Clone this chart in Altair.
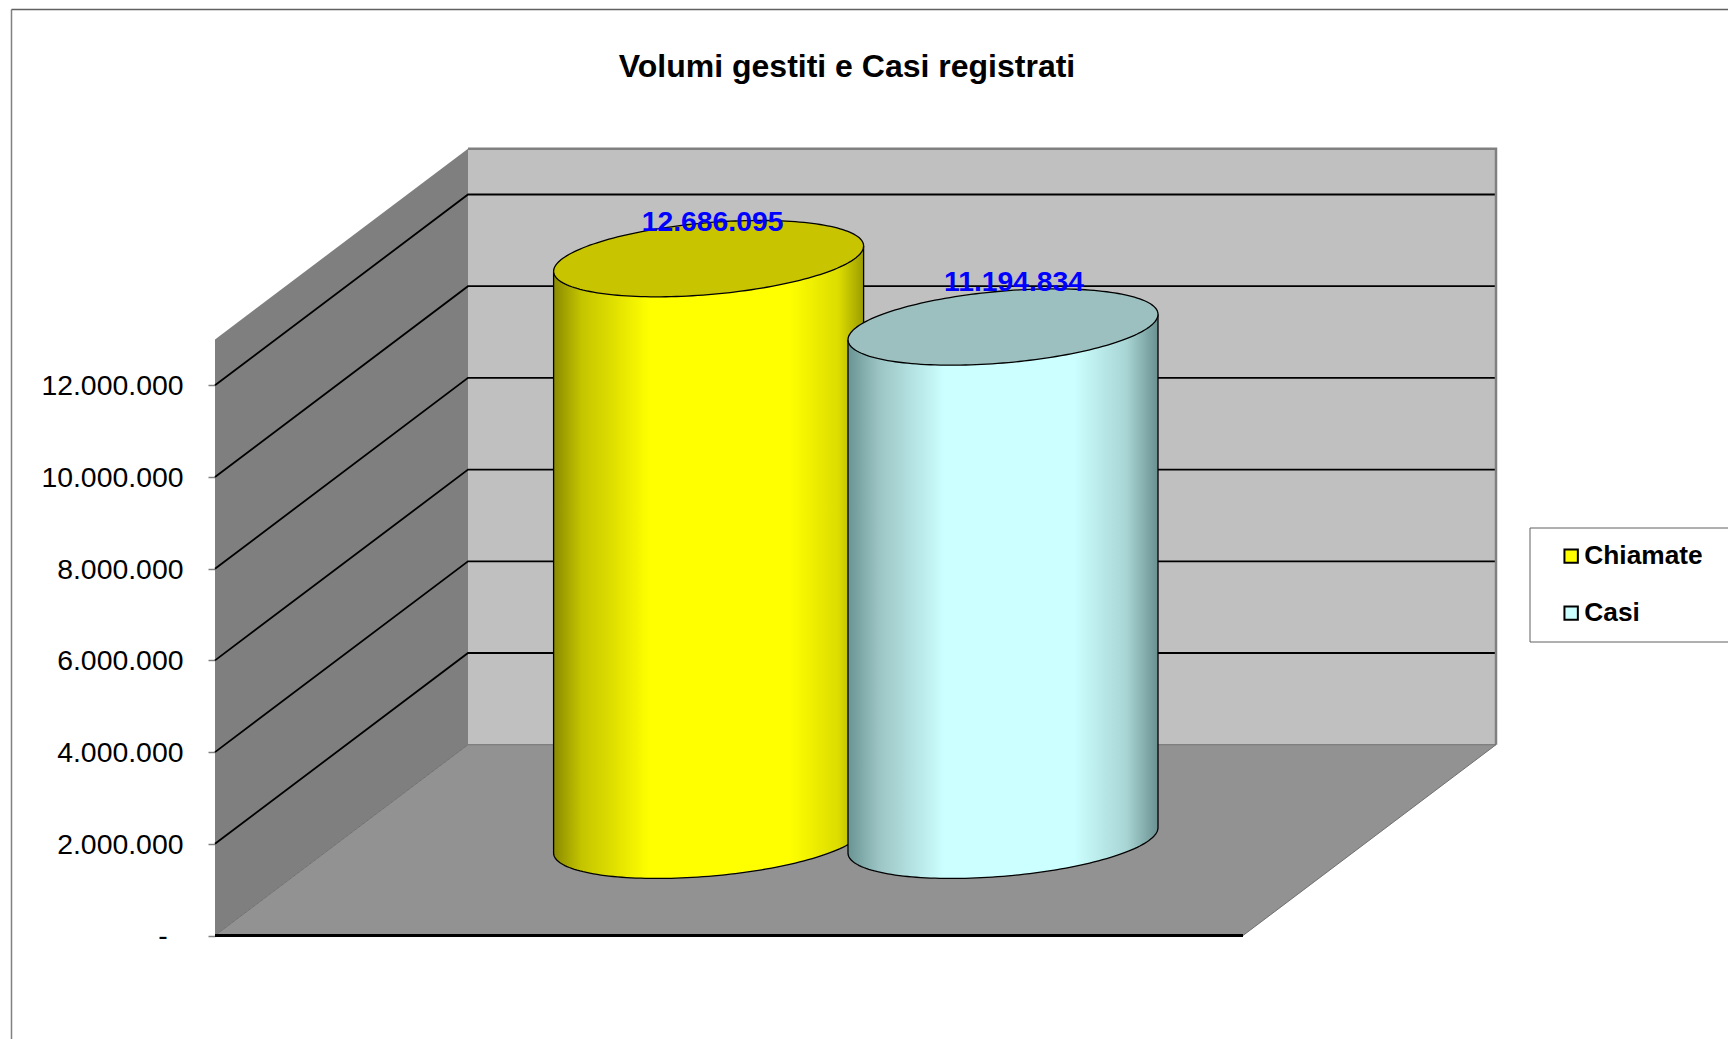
import math
import altair as alt
import pandas as pd

# ---- chart values -------------------------------------------------------
series = ["Chiamate", "Casi"]
values = [12686095, 11194834]
tick_values = [0, 2000000, 4000000, 6000000, 8000000, 10000000, 12000000]
title_text = "Volumi gestiti e Casi registrati"

# ---- 3-D frame model (x: front wall width = 1, y: value units) ----------
W, H = 1720, 1031
PX_X = 1028.0            # pixels per x unit
PX_Y = 45.85 / 1e6       # pixels per value unit
X0_PX, Y0_PX = 207.0, 927.5   # where x=0, value=0 fall inside the view
DEPTH_X = 253.0 / PX_X
DEPTH_Y = 190.8 / PX_Y
WALL_TOP = 13000000
CENTER = {"Chiamate": 493.6 / PX_X, "Casi": 788.0 / PX_X}
HALF_W = 155.0 / PX_X
RISE = 12.7 / PX_Y       # tilt of the ellipses
SEMI = 36.0 / PX_Y       # vertical half height of the ellipses
BASE = 95.2 / PX_Y       # height of the cylinders' base centre

FONT = "Liberation Sans"
STYLE = {
    "Chiamate": dict(
        top="#c8c400", legend="#ffff00",
        stops=[(0, "#8a8a00"), (0.09, "#c4c400"), (0.31, "#ffff00"),
               (0.76, "#ffff00"), (0.92, "#dcdc00"), (1, "#9c9c00")],
        dx=4, dy=-36),
    "Casi": dict(
        top="#9cc0c0", legend="#ccffff",
        stops=[(0, "#6a9494"), (0.1, "#9cc4c4"), (0.31, "#ccffff"),
               (0.73, "#ccffff"), (0.9, "#a8d4d4"), (1, "#6a9090")],
        dx=11, dy=-44),
}

xs = alt.Scale(domain=[-X0_PX / PX_X, (W - X0_PX) / PX_X], range=[0, W], nice=False, zero=False)
ys = alt.Scale(domain=[(Y0_PX - H) / PX_Y, Y0_PX / PX_Y], range=[H, 0], nice=False, zero=False)
y_axis = alt.Axis(
    values=tick_values, offset=-X0_PX, domain=False, grid=False, title=None,
    tickColor="#808080", tickSize=7, tickWidth=1.5, labelPadding=25,
    labelFont=FONT, labelFontSize=28.4, labelColor="#000000", labelOffset=0.3,
    labelExpr="datum.value == 0 ? '' : replace(format(datum.value, ','), /,/g, '.')")
X = lambda f="x": alt.X(f"{f}:Q", scale=xs, axis=None)
Y = lambda f="y": alt.Y(f"{f}:Q", scale=ys, axis=y_axis, title=None)


def poly_area(rows, **mark):
    return alt.Chart(pd.DataFrame(rows)).mark_area(**mark).encode(
        x=X(), y=Y(), y2=alt.Y2("y2:Q"))


def polyline(rows, **mark):
    return alt.Chart(pd.DataFrame(rows)).mark_line(**mark).encode(
        x=X(), y=Y(), order=alt.Order("i:Q"), detail="k:N")


def pts(coords, k=0):
    return [{"x": a, "y": b, "i": i, "k": k} for i, (a, b) in enumerate(coords)]


back = poly_area([{"x": DEPTH_X, "y": WALL_TOP + DEPTH_Y, "y2": DEPTH_Y},
                  {"x": 1 + DEPTH_X, "y": WALL_TOP + DEPTH_Y, "y2": DEPTH_Y}], color="#c0c0c0")
side = poly_area([{"x": 0, "y": WALL_TOP, "y2": 0},
                  {"x": DEPTH_X, "y": WALL_TOP + DEPTH_Y, "y2": DEPTH_Y}], color="#7f7f7f")
floor = poly_area([{"x": 0, "y": 0, "y2": 0},
                   {"x": DEPTH_X, "y": DEPTH_Y, "y2": 0},
                   {"x": 1, "y": DEPTH_Y, "y2": 0},
                   {"x": 1 + DEPTH_X, "y": DEPTH_Y, "y2": DEPTH_Y}], color="#929292")

grid_rows = []
for v in tick_values[1:]:
    grid_rows += pts([(0, v), (DEPTH_X, v + DEPTH_Y), (1 + DEPTH_X, v + DEPTH_Y)], v)
grid = polyline(grid_rows, color="#000000", strokeWidth=1.8)

border = polyline(pts([(DEPTH_X, WALL_TOP + DEPTH_Y), (1 + DEPTH_X, WALL_TOP + DEPTH_Y), (1 + DEPTH_X, DEPTH_Y)]),
                  color="#808080", strokeWidth=2.5)
floor_edge = polyline(pts([(0, 0), (DEPTH_X, DEPTH_Y), (1 + DEPTH_X, DEPTH_Y), (1, 0)]),
                      color="#707070", strokeWidth=1)
front = polyline(pts([(0, 0), (1, 0)]), color="#000000", strokeWidth=3)

# the zero label of the accounting format sits apart from the other tick labels
zero_label = alt.Chart(pd.DataFrame({"x": [0], "y": [tick_values[0]], "label": ["-"]})).mark_text(
    font=FONT, fontSize=28.4, color="#000000", align="center", baseline="middle", dx=-52, dy=0
).encode(x=X(), y=Y(), text="label:N")

N = 90
cyl_layers = []
label_layers = []
for name, value in zip(series, values):
    st = STYLE[name]
    cx, top = CENTER[name], BASE + value
    ts = [math.pi * j / N for j in range(N + 1)]
    us = [math.cos(t) for t in ts]
    vs = [math.sin(t) for t in ts]
    order = list(range(N, -1, -1))  # ascending x

    body = [{"x": cx + HALF_W * us[j],
             "y": top + RISE * us[j] + SEMI * vs[j],
             "y2": BASE + RISE * us[j] - SEMI * vs[j]} for j in order]
    lid = [{"x": cx + HALF_W * us[j],
            "y": top + RISE * us[j] + SEMI * vs[j],
            "y2": top + RISE * us[j] - SEMI * vs[j]} for j in order]
    grad = alt.Gradient(gradient="linear", x1=0, x2=1, y1=0, y2=0,
                        stops=[alt.GradientStop(offset=o, color=c) for o, c in st["stops"]])
    cyl_layers.append(poly_area(body, color=grad))

    outline = [(cx - HALF_W, top - RISE)] + \
              [(cx + HALF_W * us[j], BASE + RISE * us[j] - SEMI * vs[j]) for j in order] + \
              [(cx + HALF_W, top + RISE)]
    cyl_layers.append(polyline(pts(outline), color="#000000", strokeWidth=1.3))

    cyl_layers.append(poly_area(lid, color=st["top"]))
    ring = [(cx + HALF_W * us[j], top + RISE * us[j] + SEMI * vs[j]) for j in order] + \
           [(cx + HALF_W * us[j], top + RISE * us[j] - SEMI * vs[j]) for j in range(N + 1)]
    cyl_layers.append(polyline(pts(ring), color="#000000", strokeWidth=1.3))

    label_layers.append(
        alt.Chart(pd.DataFrame({"x": [cx], "y": [top], "label": [f"{value:,}".replace(",", ".")]}))
        .mark_text(font=FONT, fontSize=28.3, fontWeight="bold", color="#0000ff", align="center",
                   baseline="middle", dx=st["dx"], dy=st["dy"])
        .encode(x=X(), y=Y(), text="label:N"))

# outer chart frame and legend frame
one = pd.DataFrame({"a": [0]})
frame_l = alt.Chart(one).mark_rule(color="#808080", strokeWidth=1.5).encode(
    x=alt.value(3.5), y=alt.value(1.5), y2=alt.value(H))
frame_t = alt.Chart(one).mark_rule(color="#606060", strokeWidth=1.5).encode(
    x=alt.value(3.5), x2=alt.value(W), y=alt.value(1.5))
legend_box = alt.Chart(one).mark_rect(fill="#ffffff", stroke="#606060", strokeWidth=1).encode(
    x=alt.value(1522), x2=alt.value(W + 10), y=alt.value(520), y2=alt.value(634))

legend_layer = alt.Chart(pd.DataFrame({"name": series, "x": [0, 0], "y": [0, 0]})).mark_square(size=0).encode(
    x=X(), y=Y(),
    fill=alt.Fill("name:N",
                  scale=alt.Scale(domain=series, range=[STYLE[s]["legend"] for s in series]),
                  legend=alt.Legend(
                      orient="none", legendX=1550, legendY=535, title=None,
                      symbolType="square", symbolSize=180, symbolStrokeColor="#000000",
                      symbolStrokeWidth=2, symbolOpacity=1, labelFont=FONT, labelFontSize=26.3,
                      labelFontWeight="bold", labelColor="#000000", labelOffset=0,
                      rowPadding=30, padding=0, labelLimit=300)),
)

chart = alt.layer(
    back, side, floor, grid, border, floor_edge, front, zero_label,
    *cyl_layers, *label_layers, frame_l, frame_t, legend_box, legend_layer,
).properties(
    width=W, height=H, padding=0,
    autosize=alt.AutoSizeParams(type="none"),
    title=alt.TitleParams(title_text, font=FONT, fontSize=32, fontWeight="bold", color="#000000",
                          anchor="middle", frame="group", dx=-21, dy=80),
).configure_view(stroke=None)

chart.save("out.html", embed_options={"renderer": "svg", "actions": False})
